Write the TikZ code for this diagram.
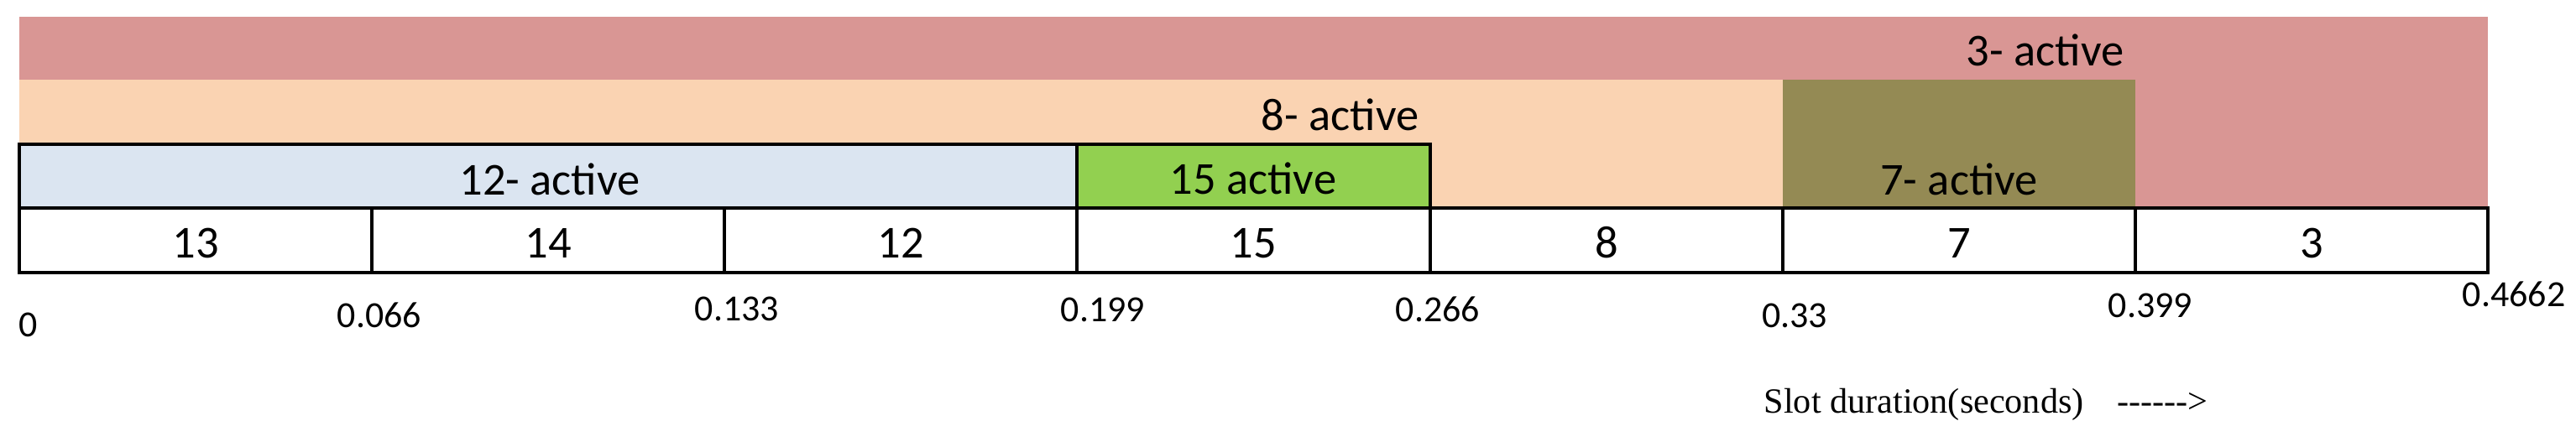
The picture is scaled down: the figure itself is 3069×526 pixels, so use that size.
\documentclass[tikz,border=0pt]{standalone}
\usepackage{fontspec}
\setmainfont{Carlito}
\newfontfamily\serifA{Liberation Serif}
\definecolor{pinkband}{HTML}{D99694}
\definecolor{peachband}{HTML}{FAD3B2}
\definecolor{olivecell}{HTML}{948A54}
\definecolor{bluecell}{HTML}{DBE5F1}
\definecolor{greencell}{HTML}{92D050}
\begin{document}
\begin{tikzpicture}[x=0.01cm,y=-0.01cm,
  lbl/.style={font=\fontsize{15.5}{18}\selectfont, inner sep=0pt, anchor=base},
  ticklbl/.style={font=\fontsize{12.5}{15}\selectfont, inner sep=0pt, anchor=base},
  cellline/.style={draw=black, line width=0.9pt}]
\useasboundingbox[fill=white] (0,0) rectangle (3069,526);
% activity bands
\fill[pinkband] (23,20) rectangle (2964,248);
\fill[peachband] (23,95) rectangle (2544,248);
\fill[olivecell] (2124,95) rectangle (2544,248);
\filldraw[fill=bluecell, cellline] (23,172) rectangle (1283,248);
\filldraw[fill=greencell, cellline] (1283,172) rectangle (1704,248);
% slot table
\draw[cellline] (23,248) rectangle (2964,325);
\foreach \x in {443,863,1283,1704,2124,2544}
  \draw[cellline] (\x,248) -- (\x,325);
% band labels
\node[lbl, anchor=base east] (a3) at (2531,78) {3- active};
\node[lbl, anchor=base east] (a8) at (1691,155) {8- active};
\node[lbl] (a12) at (655,232) {12- active};
\node[lbl] (a15) at (1493,231) {15 active};
\node[lbl] (a7) at (2334,232) {7- active};
% slot numbers
\node[lbl] (s13) at (233,307) {13};
\node[lbl] (s14) at (653,307) {14};
\node[lbl] (s12) at (1073,307) {12};
\node[lbl] (s15) at (1493,307) {15};
\node[lbl] (s8) at (1914,307) {8};
\node[lbl] (s7) at (2334,307) {7};
\node[lbl] (s3) at (2754,307) {3};
% time ticks
\node[ticklbl, anchor=base west] (t0) at (22,401) {0};
\node[ticklbl] (t1) at (452,390) {0.066};
\node[ticklbl] (t2) at (878,382) {0.133};
\node[ticklbl] (t3) at (1314,383) {0.199};
\node[ticklbl] (t4) at (1713,383) {0.266};
\node[ticklbl] (t5) at (2138,390) {0.33};
\node[ticklbl] (t6) at (2562,378) {0.399};
\node[ticklbl] (t7) at (2995,365) {0.4662};
% axis caption
\node[inner sep=0pt, anchor=base west, font=\serifA\fontsize{12}{14}\selectfont] (cap) at (2101,492) {Slot duration(seconds)\hspace{0.4cm}------>};
\end{tikzpicture}
\end{document}
